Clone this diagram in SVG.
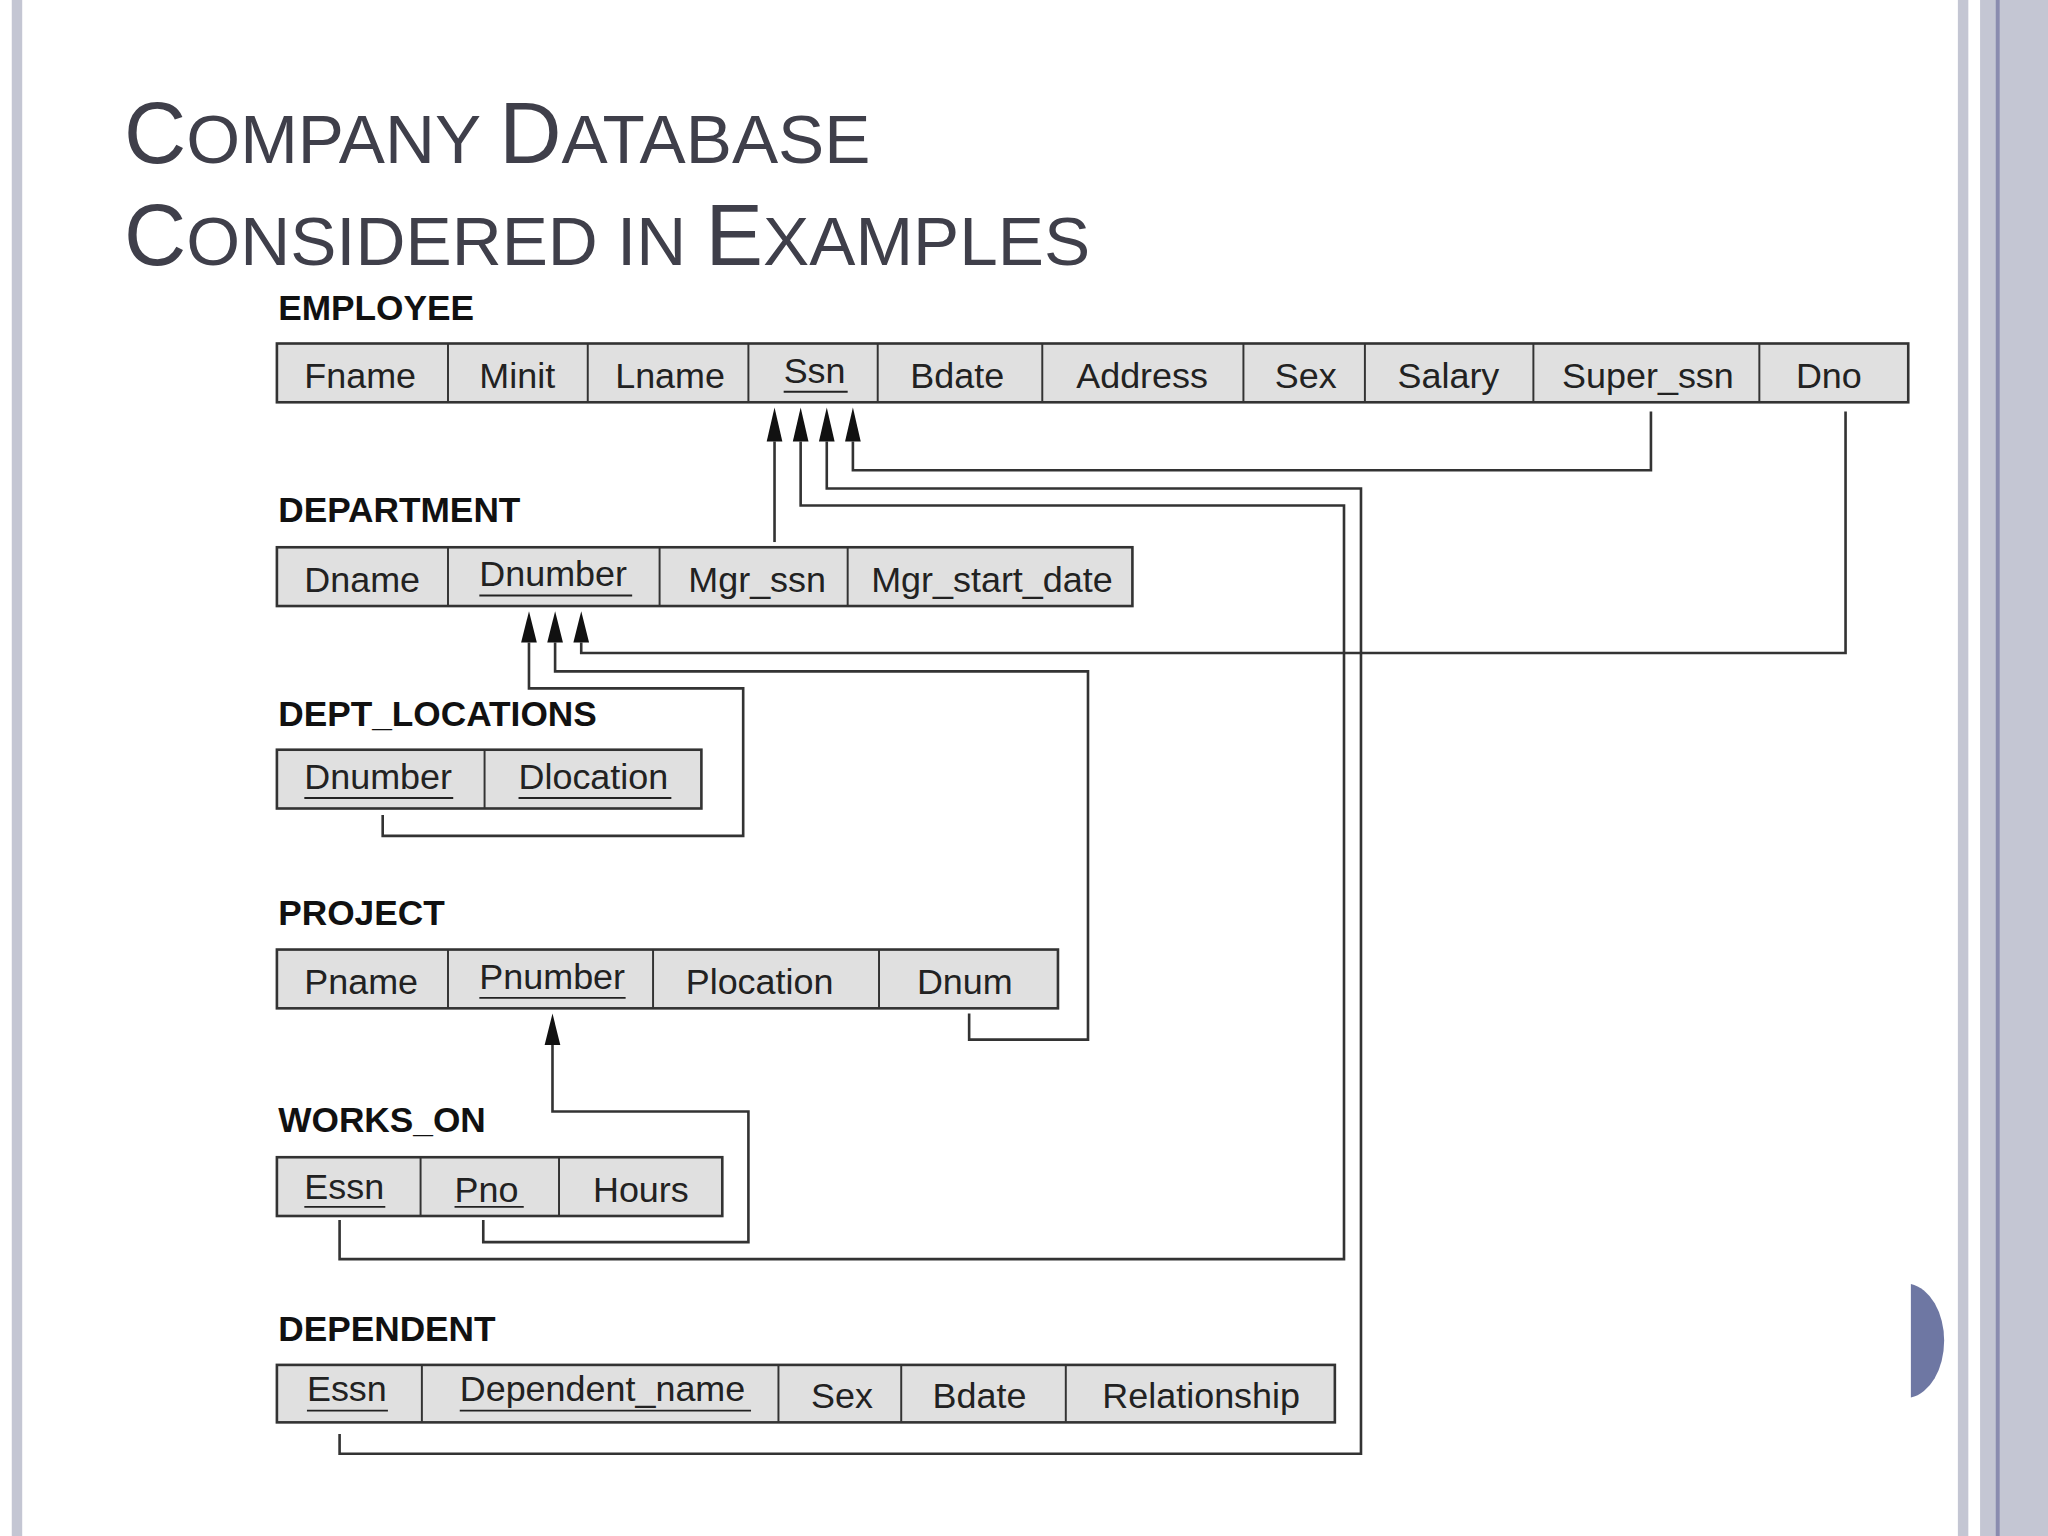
<svg xmlns="http://www.w3.org/2000/svg" width="2048" height="1536" viewBox="0 0 2048 1536">
<style>
.t{font-family:"Liberation Sans",Arial,sans-serif;font-size:27.5px;fill:#222}
.lb{font-family:"Liberation Sans",Arial,sans-serif;font-size:27px;font-weight:bold;fill:#111}
.ti{font-family:"Liberation Sans",Arial,sans-serif;fill:#3f3f4a}
.box{fill:#e0e0e0;stroke:#333;stroke-width:2}
.dv{stroke:#333;stroke-width:1.5}
.ul{stroke:#222;stroke-width:1.5}
.c{fill:none;stroke:#333;stroke-width:2}
</style>
<rect width="2048" height="1536" fill="#fff"/>
<g transform="scale(1.306122)">
<rect x="9" y="0" width="8" height="1176" fill="#c4c6d3"/>
<rect x="1499" y="0" width="8" height="1176" fill="#c4c6d3"/>
<rect x="1516" y="0" width="52" height="1176" fill="#c4c6d3"/>
<rect x="1528" y="0" width="3" height="1176" fill="#8a8caf"/>
<path d="M1463,983 A30,44 0 0 1 1463,1070 Z" fill="#6e77a3"/>
<g id="title">
<text class="ti" x="95" y="125"><tspan font-size="66">C</tspan><tspan font-size="53">OMPANY </tspan><tspan font-size="66">D</tspan><tspan font-size="53">ATABASE</tspan></text>
<text class="ti" x="95" y="203"><tspan font-size="66">C</tspan><tspan font-size="53">ONSIDERED IN </tspan><tspan font-size="66">E</tspan><tspan font-size="53">XAMPLES</tspan></text>
</g>
<g id="connectors">
<path class="c" d="M593,338 V415"/>
<path class="c" d="M653,338 V360 H1264 V315"/>
<path class="c" d="M633,338 V374 H1042 V1113 H260 V1098"/>
<path class="c" d="M613,338 V387 H1029 V964 H260 V934"/>
<path class="c" d="M445,492 V500 H1413 V315"/>
<path class="c" d="M405,492 V527 H569 V640 H293 V624"/>
<path class="c" d="M425,492 V514 H833 V796 H742 V776"/>
<path class="c" d="M423,800 V851 H573 V951 H370 V934"/>
<g fill="#111">
<path d="M593,312 L599,338 L587,338 Z"/><path d="M613,312 L619,338 L607,338 Z"/><path d="M633,312 L639,338 L627,338 Z"/><path d="M653,312 L659,338 L647,338 Z"/>
<path d="M405,468 L411,492 L399,492 Z"/><path d="M425,468 L431,492 L419,492 Z"/><path d="M445,468 L451,492 L439,492 Z"/>
<path d="M423,776 L429,800 L417,800 Z"/>
</g>
</g>
<g id="employee">
<text class="lb" x="213" y="245">EMPLOYEE</text>
<rect class="box" x="212" y="263" width="1249" height="45"/>
<path class="dv" d="M343,263V308M450,263V308M573,263V308M672,263V308M798,263V308M952,263V308M1045,263V308M1174,263V308M1347,263V308"/>
<text class="t" x="233" y="297">Fname</text><text class="t" x="367" y="297">Minit</text><text class="t" x="471" y="297">Lname</text>
<text class="t" x="600" y="293">Ssn</text><line class="ul" x1="600" y1="300" x2="649" y2="300"/>
<text class="t" x="697" y="297">Bdate</text><text class="t" x="824" y="297">Address</text><text class="t" x="976" y="297">Sex</text>
<text class="t" x="1070" y="297">Salary</text><text class="t" x="1196" y="297">Super_ssn</text><text class="t" x="1375" y="297">Dno</text>
</g>
<g id="department">
<text class="lb" x="213" y="400">DEPARTMENT</text>
<rect class="box" x="212" y="419" width="655" height="45"/>
<path class="dv" d="M343,419V464M505,419V464M649,419V464"/>
<text class="t" x="233" y="453">Dname</text>
<text class="t" x="367" y="449">Dnumber</text><line class="ul" x1="367" y1="456" x2="484" y2="456"/>
<text class="t" x="527" y="453">Mgr_ssn</text><text class="t" x="667" y="453">Mgr_start_date</text>
</g>
<g id="dept_locations">
<text class="lb" x="213" y="556">DEPT_LOCATIONS</text>
<rect class="box" x="212" y="574" width="325" height="45"/>
<path class="dv" d="M371,574V619"/>
<text class="t" x="233" y="604">Dnumber</text><line class="ul" x1="233" y1="611" x2="347" y2="611"/>
<text class="t" x="397" y="604">Dlocation</text><line class="ul" x1="397" y1="611" x2="514" y2="611"/>
</g>
<g id="project">
<text class="lb" x="213" y="708">PROJECT</text>
<rect class="box" x="212" y="727" width="598" height="45"/>
<path class="dv" d="M343,727V772M500,727V772M673,727V772"/>
<text class="t" x="233" y="761">Pname</text>
<text class="t" x="367" y="757">Pnumber</text><line class="ul" x1="367" y1="764" x2="479" y2="764"/>
<text class="t" x="525" y="761">Plocation</text><text class="t" x="702" y="761">Dnum</text>
</g>
<g id="works_on">
<text class="lb" x="213" y="867">WORKS_ON</text>
<rect class="box" x="212" y="886" width="341" height="45"/>
<path class="dv" d="M322,886V931M428,886V931"/>
<text class="t" x="233" y="918">Essn</text><line class="ul" x1="233" y1="924" x2="295" y2="924"/>
<text class="t" x="348" y="920">Pno</text><line class="ul" x1="348" y1="924" x2="401" y2="924"/>
<text class="t" x="454" y="920">Hours</text>
</g>
<g id="dependent">
<text class="lb" x="213" y="1027">DEPENDENT</text>
<rect class="box" x="212" y="1045" width="810" height="44"/>
<path class="dv" d="M323,1045V1089M596,1045V1089M690,1045V1089M816,1045V1089"/>
<text class="t" x="235" y="1073">Essn</text><line class="ul" x1="235" y1="1080" x2="297" y2="1080"/>
<text class="t" x="352" y="1073">Dependent_name</text><line class="ul" x1="352" y1="1080" x2="575" y2="1080"/>
<text class="t" x="621" y="1078">Sex</text><text class="t" x="714" y="1078">Bdate</text><text class="t" x="844" y="1078">Relationship</text>
</g>
</g>
</svg>
